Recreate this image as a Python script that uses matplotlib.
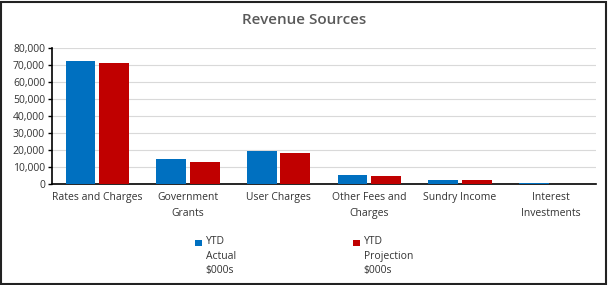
import matplotlib.pyplot as plt
import numpy as np

categories = ["Rates and Charges", "Government\nGrants", "User Charges",
              "Other Fees and\nCharges", "Sundry Income", "Interest\nInvestments"]
ytd_actual = [72500, 14700, 19200, 5100, 2700, 400]
ytd_projection = [71200, 12700, 18400, 4500, 2600, 250]
series_names = ["YTD\nActual\n$000s", "YTD\nProjection\n$000s"]
series_colors = ['#0070C0', '#C00000']
yticks = [0, 10000, 20000, 30000, 40000, 50000, 60000, 70000, 80000]

plt.rcParams['font.family'] = ['Open Sans', 'DejaVu Sans']

fig = plt.figure(figsize=(6.08, 2.85), dpi=100)
ax = fig.add_axes([0.0855, 0.354, 0.8945, 0.478])

x = np.arange(len(categories))
w = 0.33
ax.bar(x - w / 2 - 0.02, ytd_actual, w, color=series_colors[0], zorder=3)
ax.bar(x + w / 2 + 0.02, ytd_projection, w, color=series_colors[1], zorder=3)

ax.set_xlim(-0.5, len(categories) - 0.5)
ax.set_ylim(0, 80000)
ax.set_yticks(yticks)
ax.set_yticklabels([f"{v:,}" for v in yticks], fontsize=7.5, color='#333333')
ax.set_xticks(x)
ax.set_xticklabels(categories, fontsize=7.5, color='#333333', linespacing=1.6)
ax.tick_params(axis='x', length=0, pad=6)
ax.tick_params(axis='y', length=3, width=1, color='black', pad=2)
ax.grid(axis='y', color='#d9d9d9', linewidth=0.8, zorder=0)
for s in ['top', 'right']:
    ax.spines[s].set_visible(False)
ax.spines['left'].set_color('black')
ax.spines['bottom'].set_color('black')
ax.spines['left'].set_linewidth(1.2)
ax.spines['bottom'].set_linewidth(1.2)

fig.suptitle("Revenue Sources", x=0.5, y=0.955, fontsize=11, color='#595959',
             fontweight='semibold')

# legend drawn by hand so the swatch sits next to the first line
leg_x = [0.321, 0.581]
for lx, name, col in zip(leg_x, series_names, series_colors):
    fig.add_artist(plt.Rectangle((lx, 0.137), 0.0105, 0.022, transform=fig.transFigure,
                                 facecolor=col, edgecolor='none'))
    fig.text(lx + 0.017, 0.172, name, fontsize=7.5, color='#333333', va='top',
             ha='left', linespacing=1.45)

# outer frame
fig.add_artist(plt.Rectangle((0.002, 0.004), 0.994, 0.99, transform=fig.transFigure,
                             fill=False, edgecolor='#222222', linewidth=1.5))

fig.savefig("out.png", dpi=100)
